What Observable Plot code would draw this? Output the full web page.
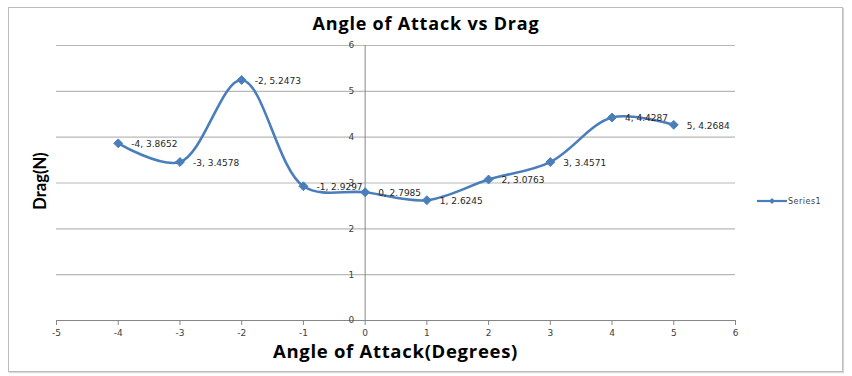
<!DOCTYPE html>
<html>
<head>
<meta charset="utf-8">
<script src="https://cdn.jsdelivr.net/npm/d3@7"></script>
<script src="https://cdn.jsdelivr.net/npm/@observablehq/plot@0.6"></script>
<style>
  html, body { margin: 0; padding: 0; background: #fff; }
  #wrap { position: relative; width: 852px; height: 376px; overflow: hidden; font-family: "DejaVu Sans", sans-serif; }
  #frame { position: absolute; left: 8px; top: 7px; width: 833px; height: 363px; border: 1px solid #bcbcbc; box-shadow: 1px 1px 1px #d8d8d8; }
  #chart { position: absolute; left: 0; top: 0; }
  .title { position: absolute; font-family: "Open Sans", Lato, sans-serif; font-weight: 700; color: #000; white-space: nowrap; line-height: 1; }
  #t { left: 0; width: 852px; text-align: center; top: 14px; font-size: 18px; letter-spacing: 0.8px; }
  #xt { left: 56px; width: 679px; text-align: center; top: 342px; font-size: 18.5px; letter-spacing: 0.7px; }
  #yt { left: 40px; top: 181px; font-size: 16.5px; font-family: Lato, sans-serif; transform: translate(-50%, -50%) rotate(-90deg); }
  #legend { position: absolute; left: 757px; top: 196px; display: flex; align-items: center; font-size: 8px; color: #404040; letter-spacing: 0.5px; }
</style>
</head>
<body>
<div id="wrap">
  <div id="frame"></div>
  <div id="chart"></div>
  <div class="title" id="t">Angle of Attack vs Drag</div>
  <div class="title" id="xt">Angle of Attack(Degrees)</div>
  <div class="title" id="yt">Drag(N)</div>
  <div id="legend"></div>
</div>
<script>
const angles = [-4, -3, -2, -1, 0, 1, 2, 3, 4, 5];
const drags = [3.8652, 3.4578, 5.2473, 2.9297, 2.7985, 2.6245, 3.0763, 3.4571, 4.4287, 4.2684];
const dragLabels = ["3.8652", "3.4578", "5.2473", "2.9297", "2.7985", "2.6245", "3.0763", "3.4571", "4.4287", "4.2684"];
const xTicks = [-5, -4, -3, -2, -1, 0, 1, 2, 3, 4, 5, 6];
const yTicks = [0, 1, 2, 3, 4, 5, 6];
const gridValues = [1, 2, 3, 4, 5, 6];
const seriesName = "Series1";

const data = angles.map((a, i) => ({x: a, y: drags[i], label: `${a}, ${dragLabels[i]}`}));
const lineColor = "#4a7ebb";

const plot = Plot.plot({
  width: 852,
  height: 376,
  marginLeft: 56,
  marginRight: 117,
  marginTop: 45,
  marginBottom: 56,
  x: {domain: [-5, 6], axis: null},
  y: {domain: [0, 6], axis: null},
  style: {fontFamily: "DejaVu Sans, sans-serif", background: "transparent"},
  marks: [
    Plot.ruleY(gridValues, {stroke: "#b8b8b8", strokeWidth: 1.2}),
    Plot.ruleY([0], {stroke: "#868686", strokeWidth: 1}),
    Plot.ruleX([0], {stroke: "#868686", strokeWidth: 1}),
    Plot.axisX(xTicks, {tickSize: 5, tickPadding: 4, stroke: "#868686", fill: "#404040", fontSize: 9, label: null, tickFormat: d => String(d)}),
    Plot.text(yTicks, {x: 0, y: d => d, text: d => String(d), dx: -11, textAnchor: "end", fontSize: 9, fill: "#404040"}),
    Plot.line(data, {x: "x", y: "y", curve: "catmull-rom", stroke: lineColor, strokeWidth: 2.6}),
    Plot.dot(data, {x: "x", y: "y", symbol: "diamond2", r: 4, fill: lineColor, stroke: lineColor, strokeWidth: 1}),
    Plot.text(data, {x: "x", y: "y", text: "label", dx: 13, dy: 1, textAnchor: "start", fontSize: 9, fill: "#262626", letterSpacing: 0.8})
  ]
});
document.getElementById("chart").appendChild(plot);

// legend
const leg = document.getElementById("legend");
const ns = "http://www.w3.org/2000/svg";
const ls = document.createElementNS(ns, "svg");
ls.setAttribute("width", 30); ls.setAttribute("height", 10);
const ln = document.createElementNS(ns, "line");
ln.setAttribute("x1", 0); ln.setAttribute("x2", 30); ln.setAttribute("y1", 5); ln.setAttribute("y2", 5);
ln.setAttribute("stroke", lineColor); ln.setAttribute("stroke-width", 2.2);
ls.appendChild(ln);
const dm = document.createElementNS(ns, "path");
dm.setAttribute("d", "M15,2 L18,5 L15,8 L12,5 Z");
dm.setAttribute("fill", lineColor);
ls.appendChild(dm);
leg.appendChild(ls);
const lt = document.createElement("span");
lt.textContent = seriesName;
lt.style.marginLeft = "1px";
leg.appendChild(lt);
</script>
</body>
</html>
